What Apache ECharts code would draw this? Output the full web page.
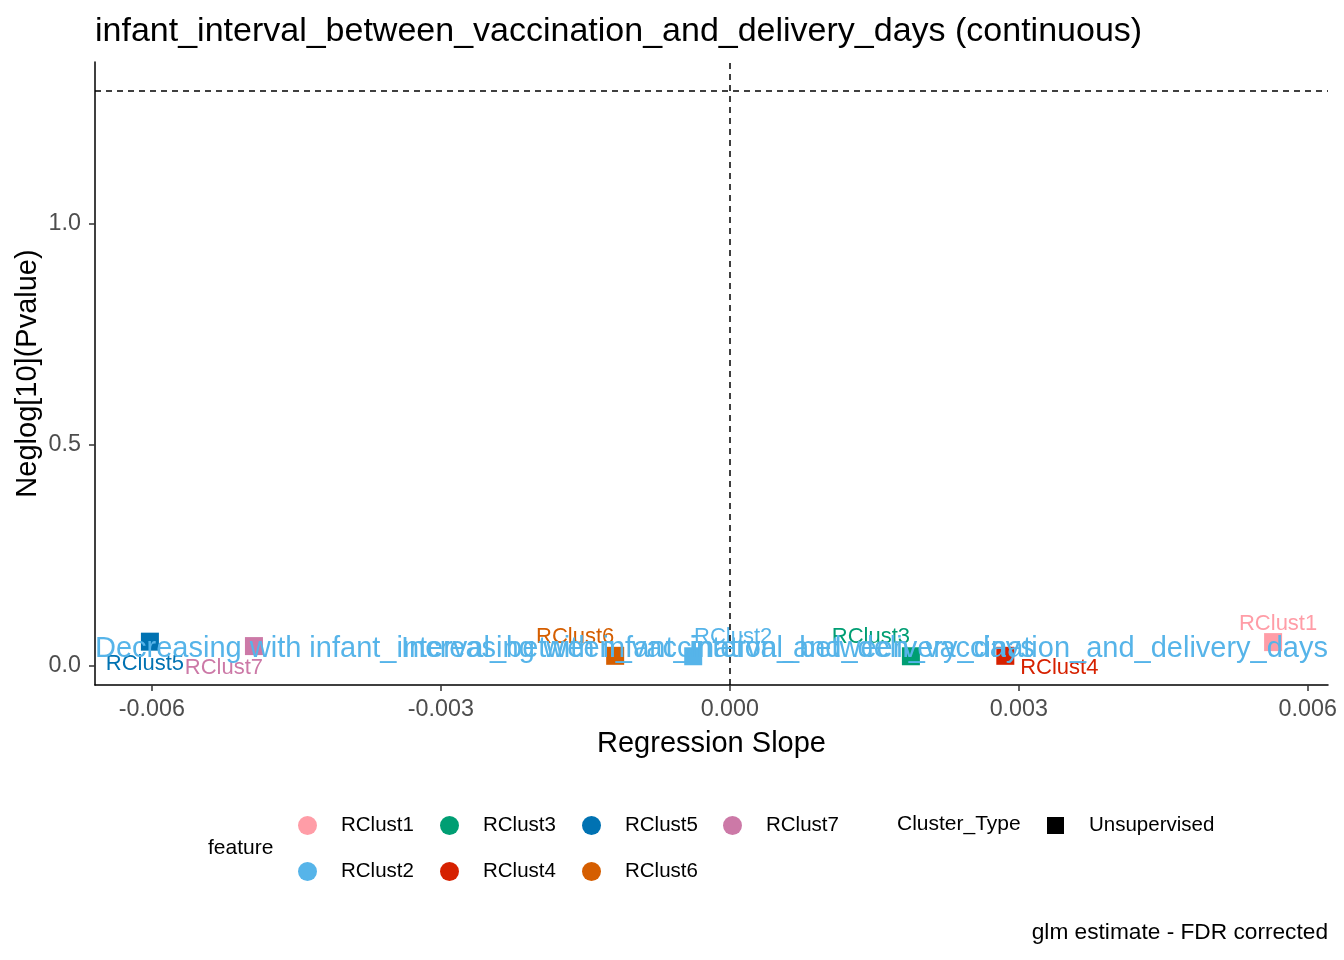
<!DOCTYPE html>
<html>
<head>
<meta charset="utf-8">
<title>infant_interval_between_vaccination_and_delivery_days</title>
<script src="https://cdn.jsdelivr.net/npm/echarts@6/dist/echarts.min.js"></script>
<style>
  html, body { margin: 0; padding: 0; background: #fff; }
  #chart { width: 1344px; height: 960px; }
</style>
</head>
<body>
<div id="chart"></div>
<script>
// clusters and their glm results
const features = ['RClust1', 'RClust2', 'RClust3', 'RClust4', 'RClust5', 'RClust6', 'RClust7'];
const slopes = [0.00564, -0.00038, 0.00188, 0.00286, -0.00602, -0.00119, -0.00494];
const negLogP = [0.054, 0.022, 0.022, 0.023, 0.055, 0.023, 0.045];
const featureColors = ['#FF9DA7', '#56B4E9', '#009E73', '#D62100', '#0072B2', '#D55E00', '#CC79A7'];
const xTicks = [-0.006, -0.003, 0, 0.003, 0.006];
const yTicks = [0, 0.5, 1.0];
const sigLine = -Math.log10(0.05);
const xRange = [-0.00659, 0.00621];
const yRange = [-0.043, 1.366];
const annotY = 0.039;

const FONT = '"Liberation Sans", Arial, sans-serif';

// label nudges (repel-style), in px relative to the point
const labelNudge = {
  RClust1: [5, -18], RClust2: [40, -19], RClust3: [-40, -19], RClust4: [54, 12],
  RClust5: [-5, 22], RClust6: [-40, -19], RClust7: [-30, 22]
};

const chart = echarts.init(document.getElementById('chart'));

const series = features.map((f, i) => ({
  name: f,
  type: 'scatter',
  symbol: 'rect',
  symbolSize: 18,
  z: 3,
  itemStyle: { color: featureColors[i], opacity: 1 },
  label: {
    show: true,
    position: 'inside',
    offset: labelNudge[f],
    formatter: f,
    color: featureColors[i],
    fontFamily: FONT,
    fontSize: 22
  },
  data: [[slopes[i], negLogP[i]]]
}));

// direction annotations + reference lines
series.push({
  name: 'annot',
  type: 'scatter',
  symbolSize: 0,
  silent: true,
  z: 5,
  itemStyle: { opacity: 1 },
  data: [
    { value: [xRange[0], annotY], label: { align: 'left', formatter: 'Decreasing with infant_interval_between_vaccination_and_delivery_days' } },
    { value: [xRange[1], annotY], label: { align: 'right', formatter: 'Increasing with infant_interval_between_vaccination_and_delivery_days' } }
  ],
  label: {
    show: true,
    position: 'inside',
    color: '#56B4E9',
    opacity: 1,
    fontFamily: FONT,
    fontSize: 29
  },
  markLine: {
    silent: true,
    symbol: 'none',
    label: { show: false },
    lineStyle: { color: '#000', type: [6, 5], width: 1.5, opacity: 1 },
    data: [{ xAxis: 0 }, { yAxis: sigLine }]
  }
});

series.push({
  name: 'Unsupervised',
  type: 'scatter',
  symbol: 'rect',
  itemStyle: { color: '#000', opacity: 1 },
  data: []
});

// feature legend: 4 columns x 2 rows, filled column-wise
const colX = [298, 440, 582, 723];
const rowTop = [815, 861];
const legends = features.map((f, i) => ({
  data: [{ name: f, icon: 'circle', itemStyle: { opacity: 1 } }],
  left: colX[Math.floor(i / 2)],
  top: rowTop[i % 2],
  itemWidth: 19,
  itemHeight: 19,
  padding: 0,
  textStyle: { fontFamily: FONT, fontSize: 20.5, color: '#000', padding: [0, 0, 0, 19] }
}));
legends.push({
  data: [{ name: 'Unsupervised', icon: 'rect', itemStyle: { color: '#000', opacity: 1 } }],
  left: 1047,
  top: 815,
  itemWidth: 17,
  itemHeight: 17,
  padding: 0,
  textStyle: { fontFamily: FONT, fontSize: 20.5, color: '#000', padding: [0, 0, 0, 20] }
});

chart.setOption({
  animation: false,
  backgroundColor: '#fff',
  title: {
    text: 'infant_interval_between_vaccination_and_delivery_days (continuous)',
    left: 95,
    top: 15,
    padding: 0,
    textStyle: { fontFamily: FONT, fontSize: 34, fontWeight: 'normal', color: '#000' }
  },
  grid: { left: 95, right: 16, top: 62, bottom: 275 },
  legend: legends,
  xAxis: {
    type: 'value',
    min: xRange[0],
    max: xRange[1],
    name: 'Regression Slope',
    nameLocation: 'middle',
    nameGap: 44,
    nameTextStyle: { fontFamily: FONT, fontSize: 29, color: '#000' },
    splitLine: { show: false },
    axisLine: { show: true, onZero: false, lineStyle: { color: '#000', width: 1.5 } },
    axisTick: { show: true, length: 6, customValues: xTicks, lineStyle: { color: '#333', width: 1.5 } },
    axisLabel: {
      customValues: xTicks,
      formatter: v => v.toFixed(3),
      fontFamily: FONT, fontSize: 23.3, color: '#4D4D4D', margin: 13
    }
  },
  yAxis: {
    type: 'value',
    min: yRange[0],
    max: yRange[1],
    name: 'Neglog[10](Pvalue)',
    nameLocation: 'middle',
    nameGap: 53,
    nameMoveOverlap: false,
    nameTextStyle: { fontFamily: FONT, fontSize: 29, color: '#000' },
    splitLine: { show: false },
    axisLine: { show: true, onZero: false, lineStyle: { color: '#000', width: 1.5 } },
    axisTick: { show: true, length: 6, customValues: yTicks, lineStyle: { color: '#333', width: 1.5 } },
    axisLabel: {
      customValues: yTicks,
      formatter: v => v.toFixed(1),
      fontFamily: FONT, fontSize: 23.3, color: '#4D4D4D', margin: 14
    }
  },
  graphic: [
    { type: 'text', left: 208, top: 838, style: { text: 'feature', font: '21px ' + FONT, fill: '#000' } },
    { type: 'text', left: 897, top: 814, style: { text: 'Cluster_Type', font: '21px ' + FONT, fill: '#000' } },
    { type: 'text', right: 16, top: 921, style: { text: 'glm estimate - FDR corrected', font: '22.7px ' + FONT, fill: '#000' } }
  ],
  series: series
});
</script>
</body>
</html>
